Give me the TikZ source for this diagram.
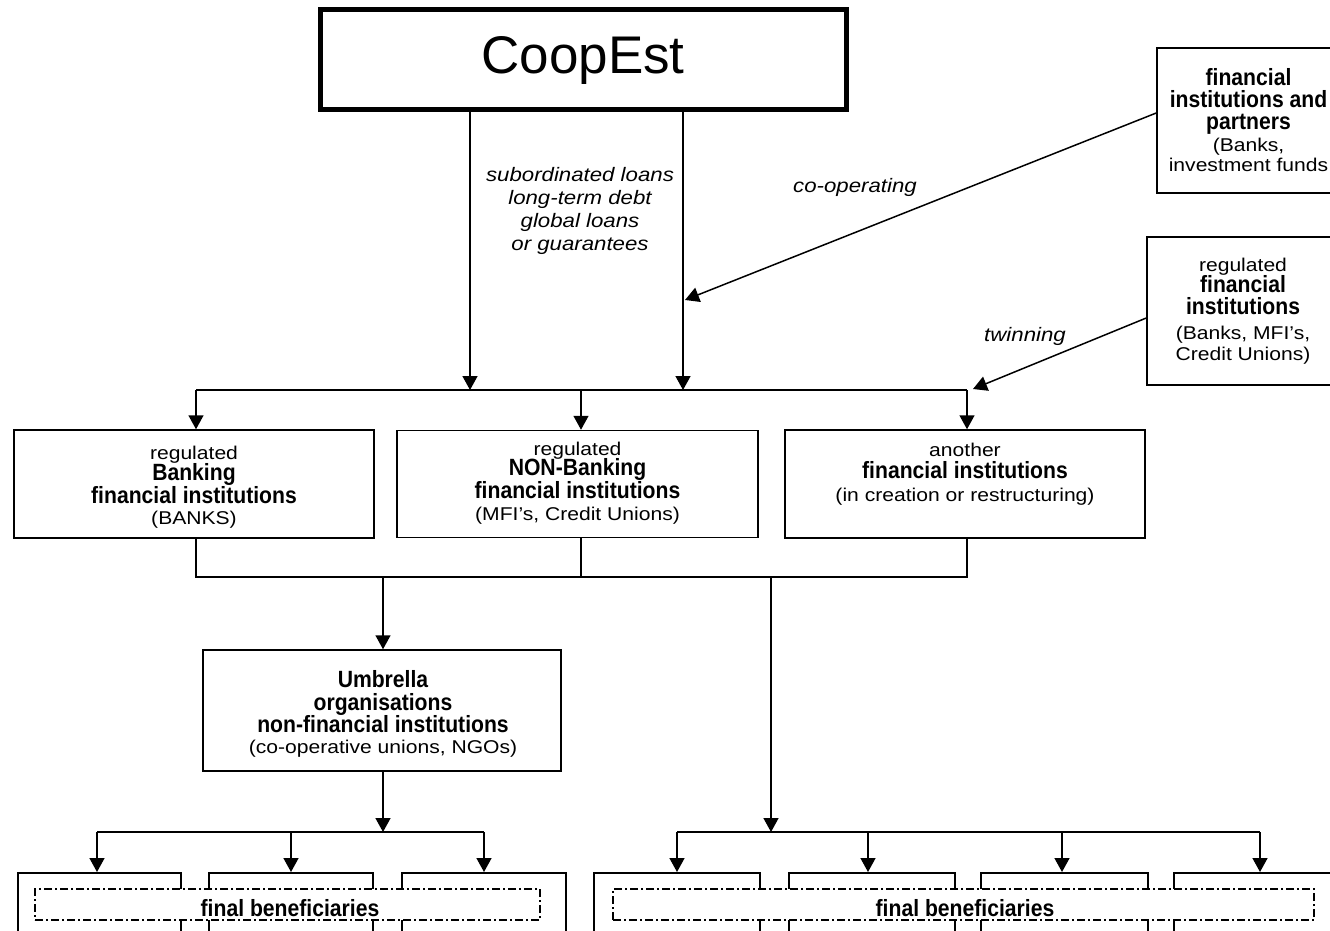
\documentclass[tikz,border=0pt]{standalone}
\usepackage{fontspec}
\setmainfont{Liberation Sans}
\newfontfamily\widefam{Liberation Sans}[FakeStretch=1.14]
\newfontfamily\narrowfam{Liberation Sans}[FakeStretch=0.9]
\newcommand\rgs{\widefam\fontsize{18.5}{22}\selectfont}
\newcommand\bds{\narrowfam\fontsize{23.5}{22}\selectfont\bfseries}
\newcommand\its{\widefam\itshape\fontsize{19.5}{23}\selectfont}
\usetikzlibrary{arrows.meta}
\begin{document}
\begin{tikzpicture}[x=1pt,y=-1pt,
  ln/.style={line width=1.5pt},
  arr/.style={line width=1.5pt,-{Triangle[length=14pt,width=15pt]}},
  box/.style={draw,line width=1.5pt,align=center,inner sep=0pt,fill=white,
     font=\fontsize{20}{22}\selectfont},
  btxt/.style={align=center,inner sep=0pt,font=\fontsize{20}{22.5}\selectfont},
  bot/.style={draw,line width=1.5pt,anchor=north,minimum height=120pt,inner sep=0pt},
  fbox/.style={draw,line width=1.2pt,fill=white,dash pattern=on 8pt off 3pt on 2pt off 3pt,
     inner sep=0pt,minimum height=31pt},
  ftxt/.style={inner sep=0pt,font=\bds},
  lab/.style={align=center,inner sep=0pt,font=\its}]
\clip (0,0) rectangle (1330,931);
\fill[white] (0,0) rectangle (1330,931);

% top
\node[box,line width=5pt,minimum width=526pt,minimum height=100pt,
      font=\fontsize{53}{60}\selectfont] (coop) at (583,60) {CoopEst};

\node[box,minimum width=183pt,minimum height=145pt] (R1) at (1248.5,120.5)
  {\bds financial\\ \bds institutions and\\ \bds partners\\ \rgs (Banks,\\[-2pt] \rgs investment funds};
\node[box,minimum width=192pt,minimum height=148pt] (R2) at (1243,311)
  {\rgs regulated\\[-1pt] \bds financial\\ \bds institutions\\[3pt] \rgs (Banks, MFI’s,\\[-1pt] \rgs Credit Unions)};

\node[lab] (loans) at (580,210.5) {subordinated loans\\ long-term debt\\ global loans\\ or guarantees};
\node[lab] (coopl) at (855,187) {co-operating};
\node[lab] (twin) at (1025,336) {twinning};

% middle boxes
\node[box,minimum width=360pt,minimum height=108pt] (A) at (194,484) {};
\node[btxt] (At) at (194,487)
  {\rgs regulated\\[-1pt] \bds Banking\\ \bds financial institutions\\[-1pt] \rgs (BANKS)};
\node[box,minimum width=361pt,minimum height=107pt] (B) at (577.5,484) {};
\node[btxt] (Bt) at (577.5,483)
  {\rgs regulated\\[-2pt] \bds NON-Banking\\ \bds financial institutions\\ \rgs (MFI’s, Credit Unions)};
\node[box,minimum width=360pt,minimum height=108pt] (C) at (965,484) {};
\node[btxt] (Ct) at (965,474)
  {\rgs another\\ \bds financial institutions\\ \rgs (in creation or restructuring)};
\node[box,minimum width=358pt,minimum height=121pt] (U) at (382,710.5) {};
\node[btxt] (Ut) at (383,714)
  {\bds Umbrella\\ \bds organisations\\ \bds non-financial institutions\\[-2pt] \rgs (co-operative unions, NGOs)};

% connectors from CoopEst
\coordinate (j1) at (470,390);
\coordinate (j2) at (683,390);
\draw[arr] (j1 |- coop.south) -- (j1);
\draw[arr] (j2 |- coop.south) -- (j2);
\coordinate (co) at (685,300);
\draw[arr] ([yshift=7.5pt]R1.west) -- (co);
\coordinate (tw) at (973,389);
\draw[arr] ([yshift=-7pt]R2.west) -- (tw);

\coordinate (t1) at (196,390);
\coordinate (t2) at (581,390);
\coordinate (t3) at (967,390);
\draw[ln] (t1) -- (t3);
\draw[arr] (t1) -- (t1 |- A.north);
\draw[arr] (t2) -- (t2 |- B.north);
\draw[arr] (t3) -- (t3 |- C.north);

\coordinate (u1) at (196,577);
\coordinate (u2) at (581,577);
\coordinate (u3) at (967,577);
\draw[ln] (u1 |- A.south) -- (u1) -- (u3) -- (u3 |- C.south);
\draw[ln] (u2 |- B.south) -- (u2);
\coordinate (u4) at (383,577);
\draw[arr] (u4) -- (u4 |- U.north);
\coordinate (u5) at (771,577);
\coordinate (r0) at (771,832);
\draw[arr] (u5) -- (r0);

% bottom left group
\coordinate (l0) at (383,832);
\draw[arr] (l0 |- U.south) -- (l0);
\node[bot,minimum width=163pt] (b1) at (99.5,872) {};
\node[bot,minimum width=164pt] (b2) at (291,872) {};
\node[bot,minimum width=164pt] (b3) at (484,872) {};
\coordinate (l1) at (97,832);
\coordinate (l2) at (291,832);
\coordinate (l3) at (484,832);
\draw[ln] (l1) -- (l3);
\draw[arr] (l1) -- (l1 |- b1.north);
\draw[arr] (l2) -- (l2 |- b2.north);
\draw[arr] (l3) -- (l3 |- b3.north);
\node[fbox,minimum width=505pt] (fb1) at (287.5,904.5) {};
\node[ftxt] (fb1t) at (290,908) {final beneficiaries};

% bottom right group
\node[bot,minimum width=166pt] (c1) at (677,872) {};
\node[bot,minimum width=166pt] (c2) at (872,872) {};
\node[bot,minimum width=167pt] (c3) at (1064.5,872) {};
\node[bot,minimum width=166pt] (c4) at (1257,872) {};
\coordinate (m1) at (677,832);
\coordinate (m2) at (868,832);
\coordinate (m3) at (1062,832);
\coordinate (m4) at (1260,832);
\draw[ln] (m1) -- (m4);
\draw[arr] (m1) -- (m1 |- c1.north);
\draw[arr] (m2) -- (m2 |- c2.north);
\draw[arr] (m3) -- (m3 |- c3.north);
\draw[arr] (m4) -- (m4 |- c4.north);
\node[fbox,minimum width=701pt] (fb2) at (963.5,904.5) {};
\node[ftxt] (fb2t) at (965,908) {final beneficiaries};
\end{tikzpicture}
\end{document}
